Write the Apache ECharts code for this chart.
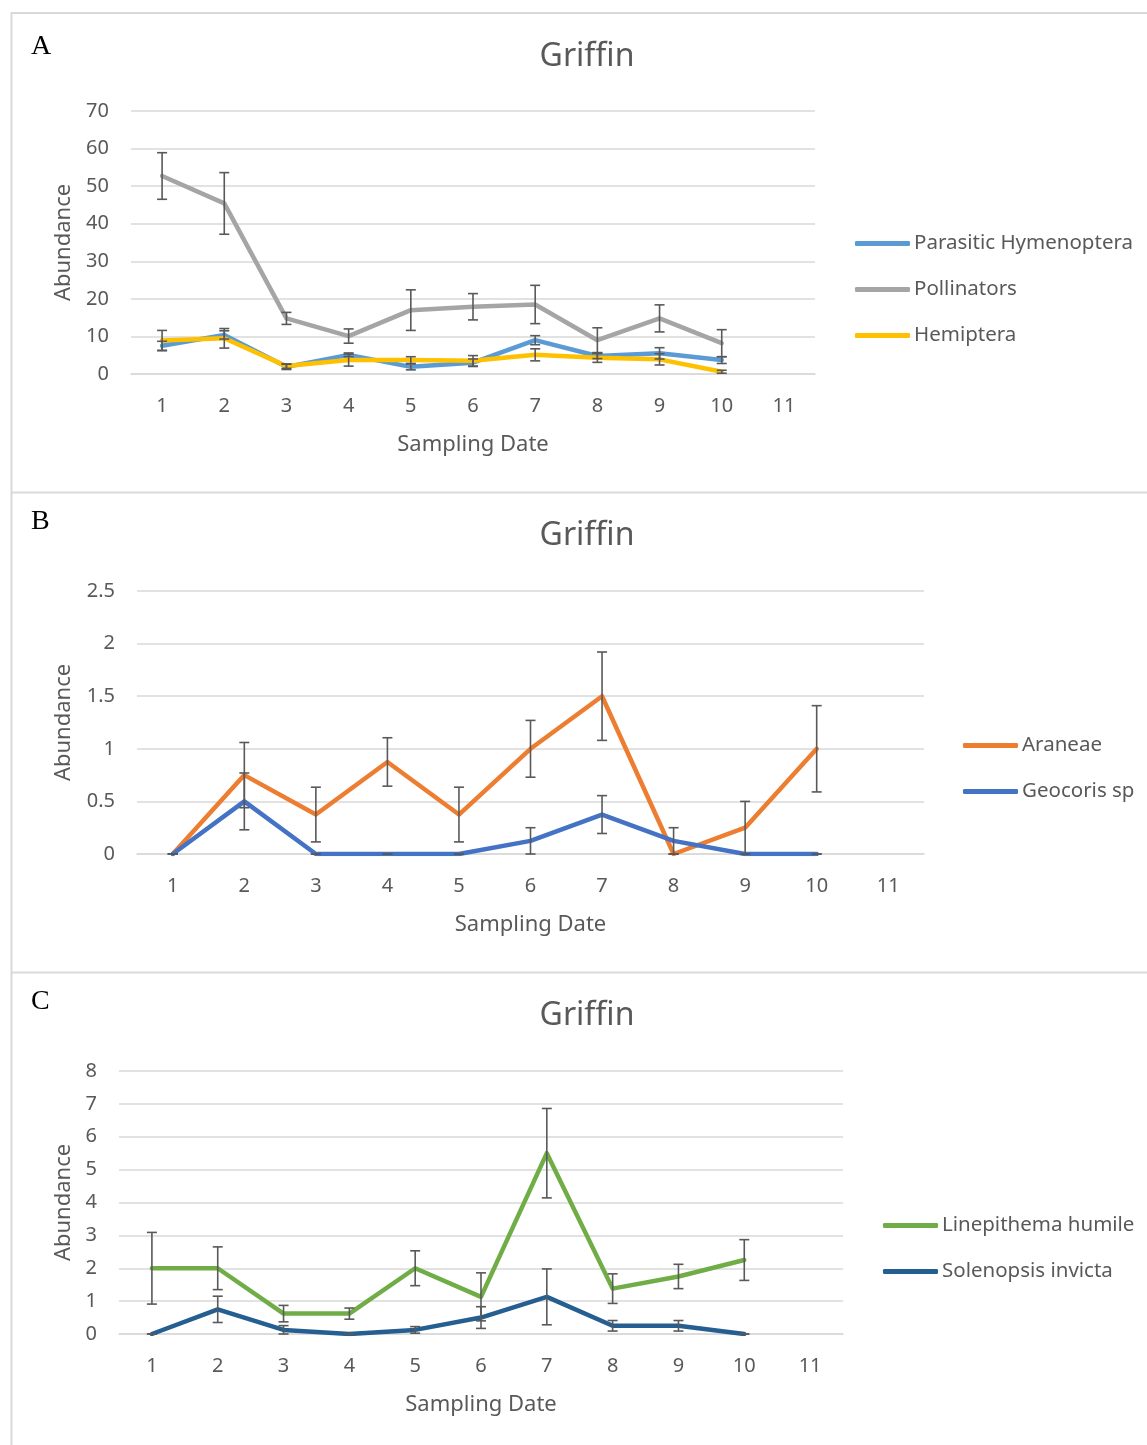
<!DOCTYPE html>
<html>
<head>
<meta charset="utf-8">
<script src="https://cdn.jsdelivr.net/npm/echarts@6/dist/echarts.min.js"></script>
<style>
html,body{margin:0;padding:0;background:#fff;}
#chart{width:1147px;height:1445px;}
</style>
</head>
<body>
<div id="chart"></div>
<script>
// ---- Data ----
const categories = ['1','2','3','4','5','6','7','8','9','10','11'];

// Panel A
const parasitic      = [7.5, 10.4, 1.9, 5.1, 1.9, 3.0, 9.0, 4.8, 5.5, 3.7];
const parasiticErr   = [1.2, 1.1, 0.7, 0.5, 0.8, 1.0, 1.2, 0.7, 1.5, 0.9];
const pollinators    = [52.7, 45.4, 14.8, 10.1, 17.0, 17.9, 18.5, 9.0, 14.8, 8.2];
const pollinatorsErr = [6.2, 8.2, 1.6, 1.9, 5.4, 3.5, 5.1, 3.3, 3.6, 3.6];
const hemiptera      = [8.9, 9.5, 2.1, 3.7, 3.7, 3.5, 5.1, 4.3, 3.9, 0.6];
const hemipteraErr   = [2.7, 2.6, 0.6, 1.6, 0.9, 1.4, 1.6, 1.2, 1.5, 0.4];

// Panel B
const araneae     = [0, 0.75, 0.375, 0.875, 0.375, 1.0, 1.5, 0, 0.25, 1.0];
const araneaeErr  = [0, 0.31, 0.26, 0.23, 0.26, 0.27, 0.42, 0, 0.25, 0.41];
const geocoris    = [0, 0.5, 0, 0, 0, 0.125, 0.375, 0.125, 0, 0];
const geocorisErr = [0, 0.27, 0, 0, 0, 0.125, 0.18, 0.125, 0, 0];

// Panel C
const linepithema    = [2, 2, 0.62, 0.62, 2, 1.13, 5.5, 1.38, 1.75, 2.25];
const linepithemaErr = [1.09, 0.65, 0.25, 0.17, 0.53, 0.73, 1.36, 0.45, 0.37, 0.62];
const solenopsis     = [0, 0.75, 0.125, 0, 0.125, 0.5, 1.13, 0.25, 0.25, 0];
const solenopsisErr  = [0, 0.4, 0.13, 0, 0.1, 0.33, 0.85, 0.16, 0.16, 0];

// ---- Styles ----
const FONT = '"Noto Sans", "Open Sans", sans-serif';
const TXT = '#595959';
const GRIDC = '#d9d9d9';

function errData(mean, err) {
  return mean.map((m, i) => [i, Math.max(0, m - err[i]), m + err[i]]);
}

function errSeries(name, mean, err, idx) {
  return {
    type: 'custom', name: name, xAxisIndex: idx, yAxisIndex: idx, z: 10,
    silent: true,
    data: errData(mean, err),
    renderItem: function (params, api) {
      const x = api.value(0);
      const hi = api.coord([x, api.value(2)]);
      const lo = api.coord([x, api.value(1)]);
      const w = 5;
      const st = { stroke: '#595959', lineWidth: 1.6 };
      return {
        type: 'group',
        children: [
          { type: 'line', shape: { x1: hi[0], y1: hi[1], x2: lo[0], y2: lo[1] }, style: st },
          { type: 'line', shape: { x1: hi[0] - w, y1: hi[1], x2: hi[0] + w, y2: hi[1] }, style: st },
          { type: 'line', shape: { x1: lo[0] - w, y1: lo[1], x2: lo[0] + w, y2: lo[1] }, style: st }
        ]
      };
    }
  };
}

function lineSeries(name, data, color, idx) {
  return {
    type: 'line', name: name, xAxisIndex: idx, yAxisIndex: idx,
    data: data, symbol: 'none', silent: true,
    lineStyle: { color: color, width: 4.5, cap: 'round', join: 'round' },
    itemStyle: { color: color },
    z: 3
  };
}

const grids = [
  { left: 131, right: 1147 - 815, top: 111, height: 263 },
  { left: 137, right: 1147 - 924, top: 591, height: 263 },
  { left: 119, right: 1147 - 843, top: 1071, height: 263 }
];
const yNameGaps = [56, 62, 44];
const yRanges = [[0, 70, 10], [0, 2.5, 0.5], [0, 8, 1]];

const xAxes = grids.map((g, i) => ({
  type: 'category', gridIndex: i, data: categories, boundaryGap: true,
  axisLine: { show: true, lineStyle: { color: GRIDC, width: 1.5 } },
  axisTick: { show: false },
  axisLabel: { color: TXT, fontSize: 20, fontFamily: FONT, margin: 22, interval: 0 },
  name: 'Sampling Date', nameLocation: 'middle', nameGap: 60,
  nameTextStyle: { color: TXT, fontSize: 22, fontFamily: FONT }
}));
const yAxes = grids.map((g, i) => ({
  type: 'value', gridIndex: i, min: yRanges[i][0], max: yRanges[i][1], interval: yRanges[i][2],
  axisLine: { show: false }, axisTick: { show: false },
  splitLine: { show: true, lineStyle: { color: GRIDC, width: 1.5 } },
  axisLabel: { color: TXT, fontSize: 20, fontFamily: FONT, margin: 22 },
  name: 'Abundance', nameLocation: 'middle', nameGap: yNameGaps[i], nameRotate: 90,
  nameTextStyle: { color: TXT, fontSize: 22, fontFamily: FONT }
}));

const C = {
  par: '#5B9BD5', pol: '#A5A5A5', hem: '#FFC000',
  ara: '#ED7D31', geo: '#4472C4',
  lin: '#70AD47', sol: '#255E91'
};

function legendCfg(left, top, names, colors) {
  return {
    orient: 'vertical', left: left, top: top, itemGap: 25, padding: 0,
    itemWidth: 55, itemHeight: 5,
    data: names.map((n, k) => ({ name: n, icon: 'roundRect', itemStyle: { color: colors[k] } })),
    textStyle: { color: TXT, fontSize: 20.5, fontFamily: FONT, padding: [0, 0, 0, -1] },
    selectedMode: false
  };
}

const borders = [
  { type: 'line', shape: { x1: 11, y1: 13, x2: 1147, y2: 13 } },
  { type: 'line', shape: { x1: 11.5, y1: 12, x2: 11.5, y2: 1445 } },
  { type: 'line', shape: { x1: 11, y1: 492.5, x2: 1147, y2: 492.5 } },
  { type: 'line', shape: { x1: 11, y1: 972.5, x2: 1147, y2: 972.5 } }
].map(o => Object.assign(o, { style: { stroke: GRIDC, lineWidth: 2 }, silent: true }));

const letters = [['A', 47], ['B', 522], ['C', 1002]].map(([t, y]) => ({
  type: 'text', x: 31, y: y,
  style: { text: t, font: '28px "Liberation Serif", "Times New Roman", serif', fill: '#000', verticalAlign: 'middle', align: 'left' }
}));
const titles = [57, 536, 1016].map(y => ({
  type: 'text', x: 587, y: y,
  style: { text: 'Griffin', font: '32px ' + FONT, fill: TXT, align: 'center', verticalAlign: 'middle' }
}));

const option = {
  backgroundColor: '#fff',
  animation: false,
  grid: grids,
  xAxis: xAxes,
  yAxis: yAxes,
  legend: [
    legendCfg(855, 233, ['Parasitic Hymenoptera', 'Pollinators', 'Hemiptera'], [C.par, C.pol, C.hem]),
    legendCfg(963, 735, ['Araneae', 'Geocoris sp'], [C.ara, C.geo]),
    legendCfg(883, 1215, ['Linepithema humile', 'Solenopsis invicta'], [C.lin, C.sol])
  ],
  graphic: borders.concat(letters, titles),
  series: [
    lineSeries('Pollinators', pollinators, C.pol, 0),
    lineSeries('Parasitic Hymenoptera', parasitic, C.par, 0),
    lineSeries('Hemiptera', hemiptera, C.hem, 0),
    errSeries('errPol', pollinators, pollinatorsErr, 0),
    errSeries('errPar', parasitic, parasiticErr, 0),
    errSeries('errHem', hemiptera, hemipteraErr, 0),

    lineSeries('Araneae', araneae, C.ara, 1),
    lineSeries('Geocoris sp', geocoris, C.geo, 1),
    errSeries('errAra', araneae, araneaeErr, 1),
    errSeries('errGeo', geocoris, geocorisErr, 1),

    lineSeries('Linepithema humile', linepithema, C.lin, 2),
    lineSeries('Solenopsis invicta', solenopsis, C.sol, 2),
    errSeries('errLin', linepithema, linepithemaErr, 2),
    errSeries('errSol', solenopsis, solenopsisErr, 2)
  ]
};

const chart = echarts.init(document.getElementById('chart'), null, { renderer: 'canvas' });
chart.setOption(option);
</script>
</body>
</html>
